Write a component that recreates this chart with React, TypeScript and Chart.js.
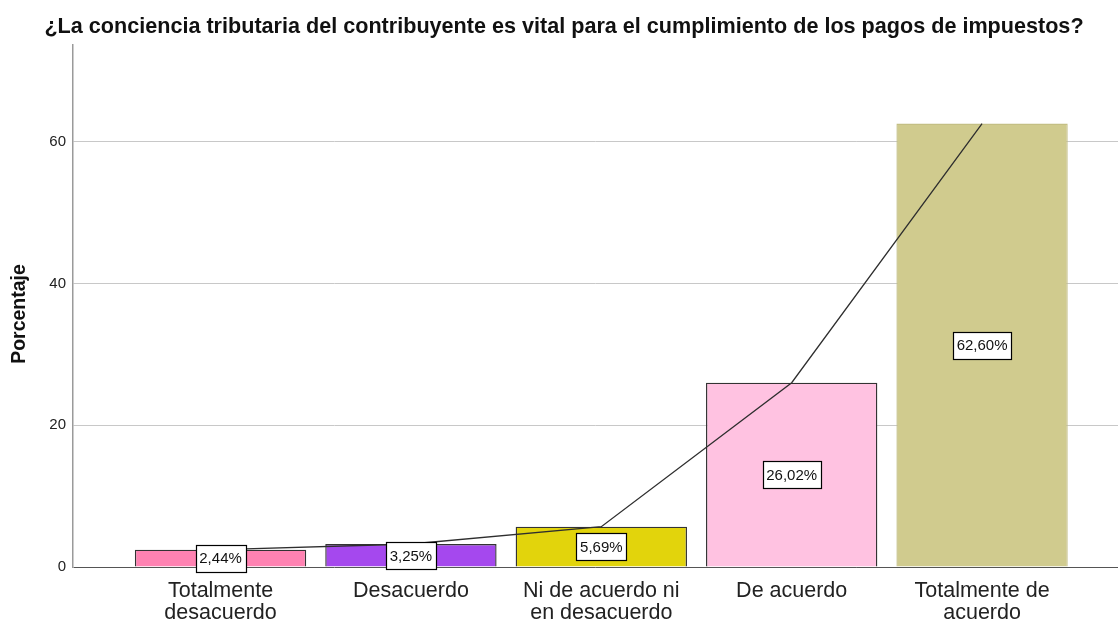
import React, { useEffect, useRef } from "react";
import { Chart, registerables } from "chart.js";

Chart.register(...registerables);

const chartTitle =
  "¿La conciencia tributaria del contribuyente es vital para el cumplimiento de los pagos de impuestos?";
const yAxisTitle = "Porcentaje";
const categories: string[][] = [
  ["Totalmente", "desacuerdo"],
  ["Desacuerdo"],
  ["Ni de acuerdo ni", "en desacuerdo"],
  ["De acuerdo"],
  ["Totalmente de", "acuerdo"],
];
const percentages: number[] = [2.44, 3.25, 5.69, 26.02, 62.6];
const valueLabels: string[] = ["2,44%", "3,25%", "5,69%", "26,02%", "62,60%"];
const barColors: string[] = ["#ff82b2", "#a548ee", "#e2d40c", "#ffc2e1", "#d0cb8e"];
const barBorders: string[] = ["#333333", "#333333", "#333333", "#333333", "#c4bf84"];
const yTicks: number[] = [0, 20, 40, 60];

const FONT = "'Liberation Sans', Arial, Helvetica, sans-serif";

const labelPlugin = {
  id: "boxLabels",
  afterDatasetsDraw(chart: any) {
    const ctx = chart.ctx;
    const meta = chart.getDatasetMeta(0);
    const yScale = chart.scales.y;
    ctx.save();
    ctx.font = `15px ${FONT}`;
    ctx.textAlign = "center";
    ctx.textBaseline = "middle";
    meta.data.forEach((el: any, i: number) => {
      const text = valueLabels[i];
      const cx = el.x;
      const cy = yScale.getPixelForValue(percentages[i] / 2);
      const w = Math.round(ctx.measureText(text).width + 7);
      const h = 27;
      const x0 = Math.round(cx - w / 2) + 0.5;
      const y0 = Math.round(cy - h / 2) + 0.5;
      ctx.fillStyle = "#ffffff";
      ctx.fillRect(x0, y0, w, h);
      ctx.strokeStyle = "#000000";
      ctx.lineWidth = 1.2;
      ctx.strokeRect(x0, y0, w, h);
      ctx.fillStyle = "#111111";
      ctx.fillText(text, cx, cy + 1);
    });
    ctx.restore();
  },
};

const yTitlePlugin = {
  id: "yTitle",
  afterDraw(chart: any) {
    const ctx = chart.ctx;
    ctx.save();
    ctx.font = `bold 19.5px ${FONT}`;
    ctx.fillStyle = "#111111";
    ctx.textAlign = "center";
    ctx.textBaseline = "middle";
    ctx.translate(20, 314);
    ctx.rotate(-Math.PI / 2);
    ctx.fillText(yAxisTitle, 0, 0);
    ctx.restore();
  },
};

export default function App() {
  const canvasRef = useRef<HTMLCanvasElement | null>(null);

  useEffect(() => {
    if (!canvasRef.current) return;
    const points = percentages.map((v, i) => ({ x: i, y: v }));
    const chart = new Chart(canvasRef.current, {
      type: "bar",
      data: {
        datasets: [
          {
            type: "bar",
            data: points,
            backgroundColor: barColors,
            borderColor: barBorders,
            borderWidth: 1.4,
            barPercentage: 0.9,
            categoryPercentage: 1,
            order: 2,
          } as any,
          {
            type: "line",
            data: points,
            borderColor: "#2e2e2e",
            borderWidth: 1.3,
            pointRadius: 0,
            tension: 0,
            fill: false,
            order: 1,
          } as any,
        ],
      },
      options: {
        animation: false,
        responsive: false,
        maintainAspectRatio: false,
        layout: { padding: { left: 10, right: 0, top: 0, bottom: 0 } },
        plugins: {
          legend: { display: false },
          tooltip: { enabled: false },
          title: {
            display: true,
            text: chartTitle,
            color: "#111111",
            font: { family: FONT, size: 21.6, weight: "bold" },
            padding: { top: 14, bottom: 5 },
          },
        },
        scales: {
          x: {
            type: "linear",
            offset: false,
            min: -0.775,
            max: 4.714,
            grid: { display: false, offset: false },
            border: { display: false },
            afterBuildTicks: (scale: any) => {
              scale.ticks = categories.map((_, i) => ({ value: i }));
            },
            afterFit: (scale: any) => {
              scale.height = 56;
            },
            ticks: {
              autoSkip: false,
              maxRotation: 0,
              minRotation: 0,
              padding: 5,
              color: "#222222",
              font: { family: FONT, size: 21.5, lineHeight: 1.02 },
              callback: (value: any) => categories[Math.round(Number(value))] ?? "",
            },
          },
          y: {
            type: "linear",
            min: 0,
            max: 73.7,
            afterBuildTicks: (scale: any) => {
              scale.ticks = yTicks.map((v) => ({ value: v }));
            },
            afterFit: (scale: any) => {
              scale.width = 63;
            },
            border: { display: true, color: "#9a9a9a", width: 1.5 },
            grid: {
              drawTicks: false,
              color: (c: any) => (c.tick && c.tick.value === 0 ? "#555555" : "#c8c8c8"),
              lineWidth: 1,
            },
            ticks: {
              padding: 7,
              color: "#222222",
              font: { family: FONT, size: 15 },
              callback: (value: any) => String(value),
            },
            title: { display: false },
          },
        },
      },
      plugins: [labelPlugin, yTitlePlugin],
    });
    return () => chart.destroy();
  }, []);

  return (
    <div style={{ position: "absolute", left: 0, top: 0, width: 1118, height: 623, background: "#ffffff" }}>
      <canvas ref={canvasRef} width={1118} height={623} style={{ display: "block" }} />
    </div>
  );
}
